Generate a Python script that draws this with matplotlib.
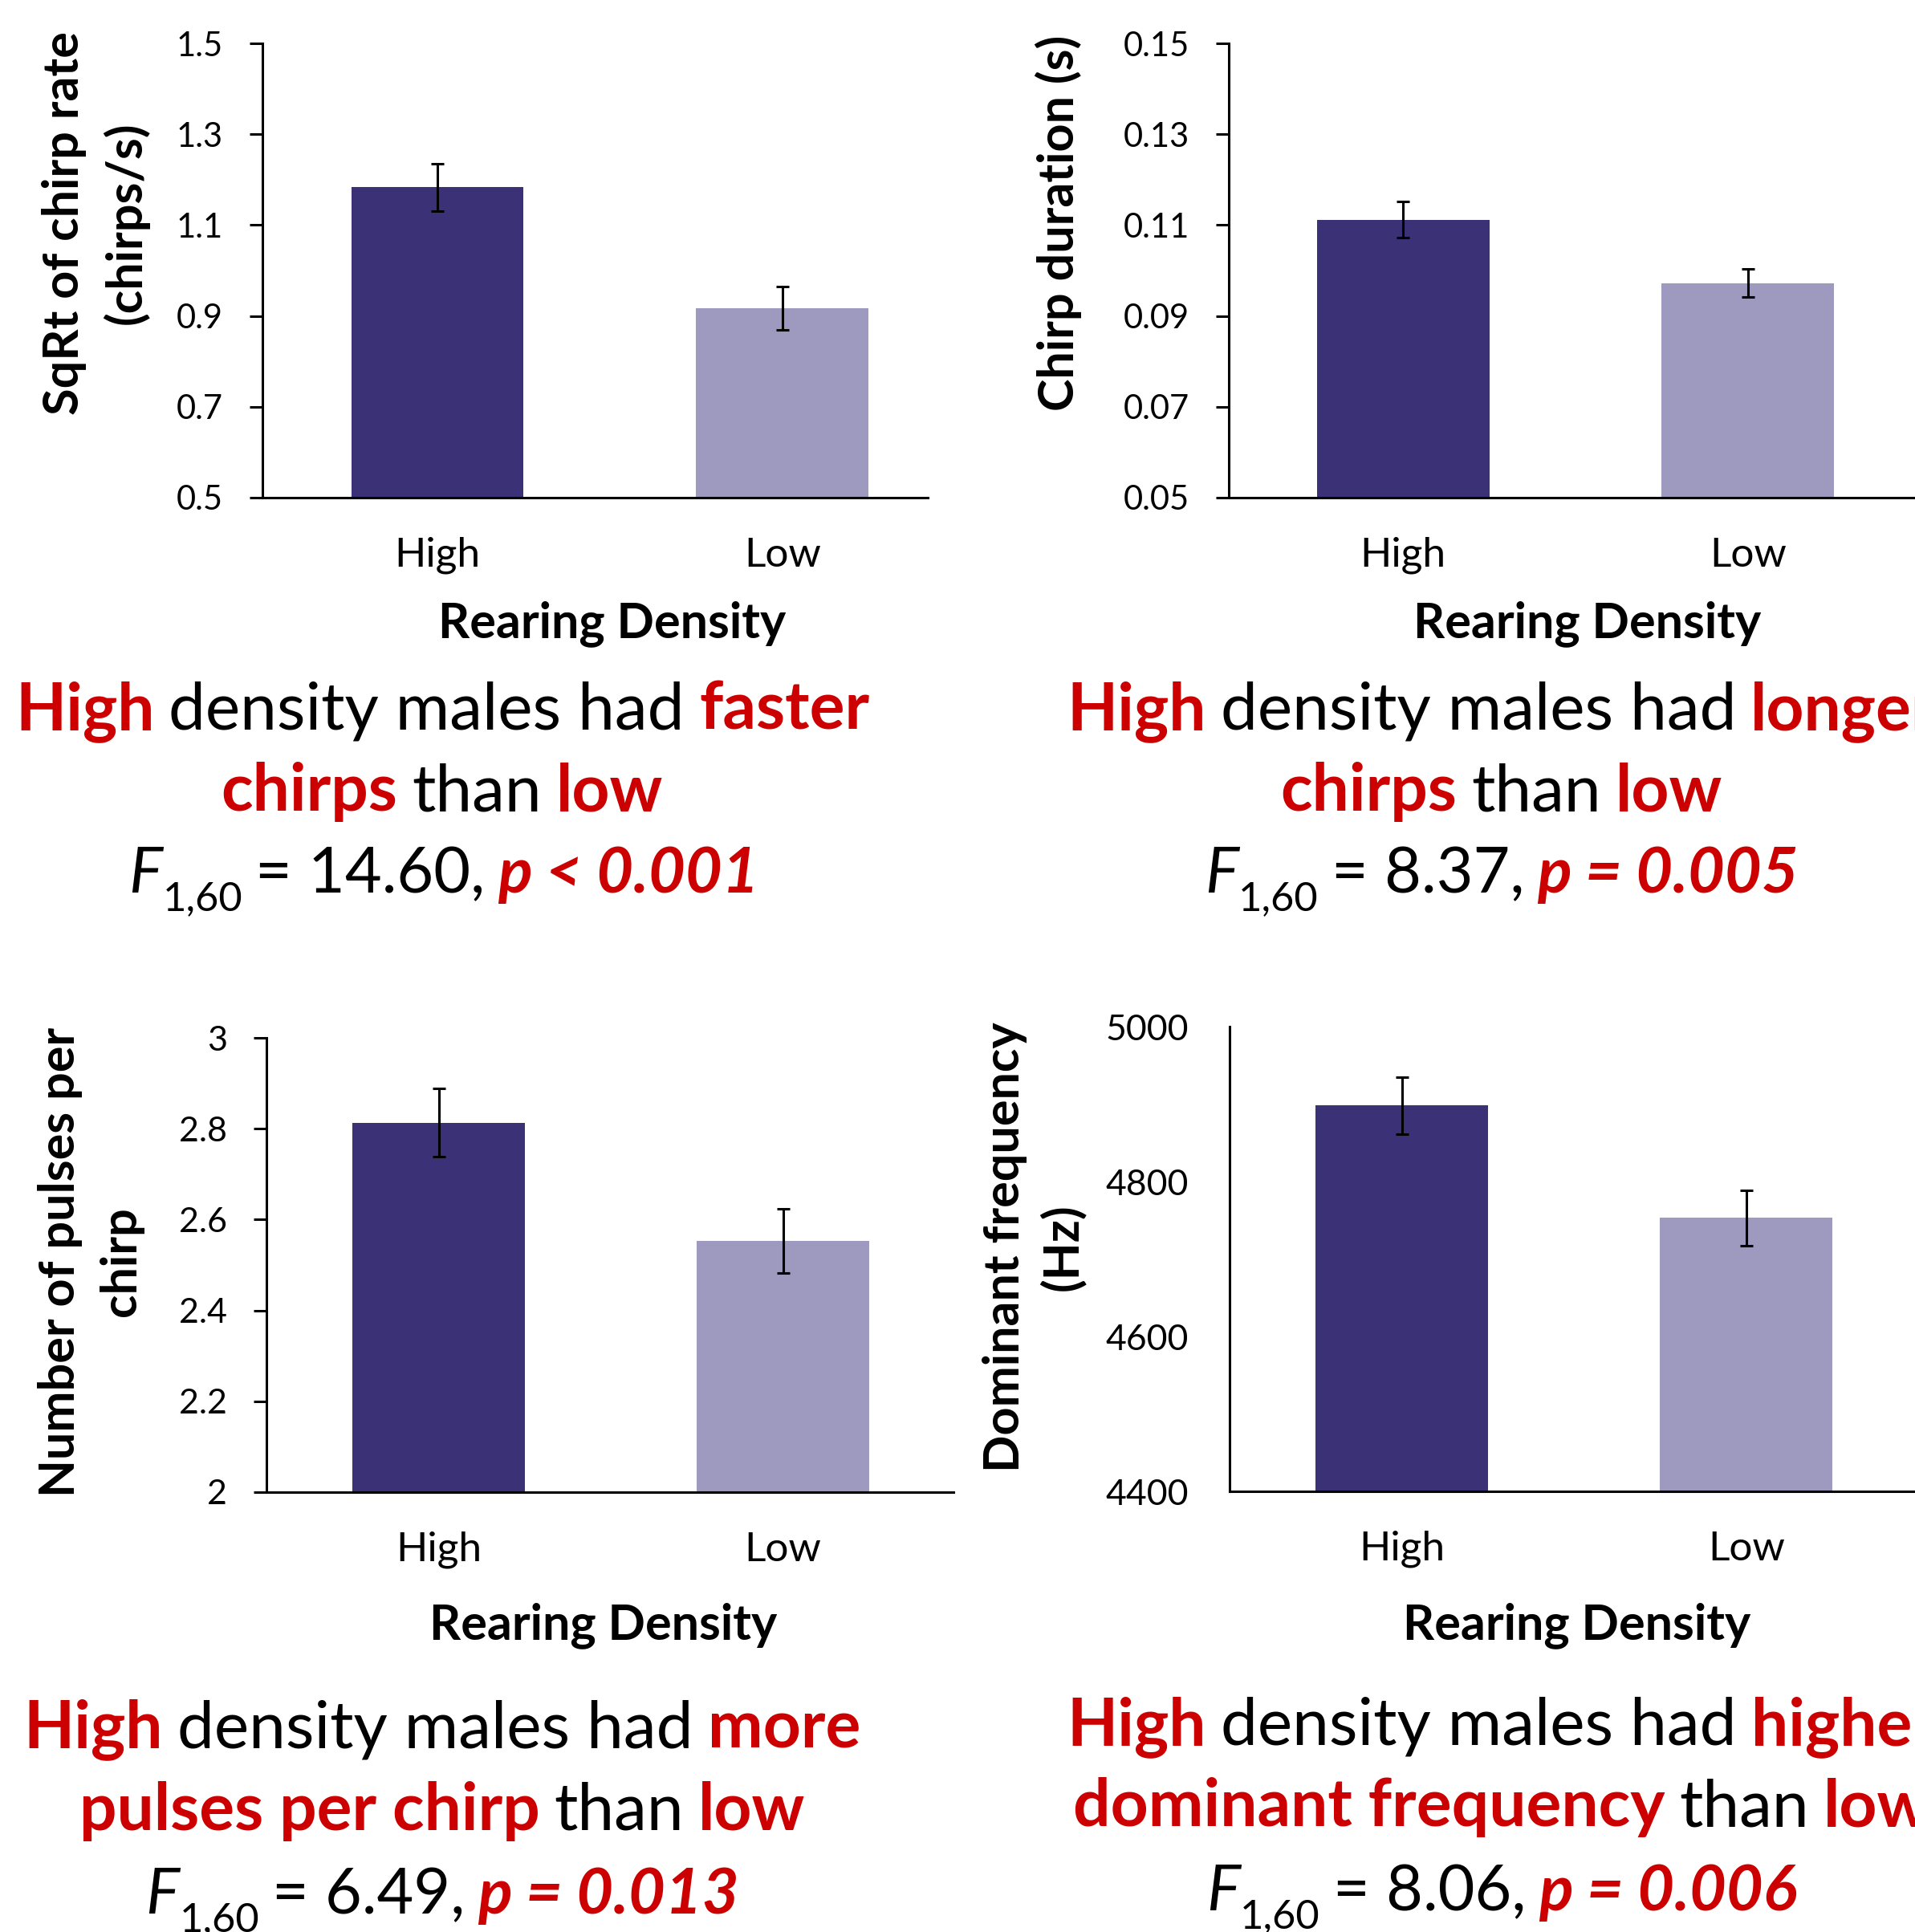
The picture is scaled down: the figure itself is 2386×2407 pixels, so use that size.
import matplotlib
matplotlib.use("Agg")
import matplotlib.pyplot as plt

plt.rcParams['font.family'] = ['Lato', 'DejaVu Sans']

W, H = 2386, 2407
DPI = 100

groups = ["High", "Low"]

chirp_rate = [1.183, 0.917]
chirp_rate_err = [0.052, 0.048]
chirp_rate_ticks = [0.5, 0.7, 0.9, 1.1, 1.3, 1.5]
chirp_rate_labels = ["0.5", "0.7", "0.9", "1.1", "1.3", "1.5"]

chirp_dur = [0.1112, 0.0972]
chirp_dur_err = [0.0040, 0.0031]
chirp_dur_ticks = [0.05, 0.07, 0.09, 0.11, 0.13, 0.15]
chirp_dur_labels = ["0.05", "0.07", "0.09", "0.11", "0.13", "0.15"]

pulses = [2.813, 2.553]
pulses_err = [0.075, 0.070]
pulses_ticks = [2.0, 2.2, 2.4, 2.6, 2.8, 3.0]
pulses_labels = ["2", "2.2", "2.4", "2.6", "2.8", "3"]

dom_freq = [4898, 4753]
dom_freq_err = [37, 36]
dom_freq_ticks = [4400, 4600, 4800, 5000]
dom_freq_labels = ["4400", "4600", "4800", "5000"]

dark = "#3b3176"
light = "#9e9abf"
red = "#cc0000"

fig = plt.figure(figsize=(W / DPI, H / DPI), dpi=DPI)
fig.patch.set_facecolor("white")


def px_rect(l, r, t, b):
    return [l / W, 1 - b / H, (r - l) / W, (b - t) / H]


def panel(rect, xlim, vals, errs, ticks, labels, tick_len, tick_pad, tick_size):
    ax = fig.add_axes(px_rect(*rect))
    ax.bar(range(len(groups)), vals, width=0.5, color=[dark, light],
           yerr=errs, error_kw=dict(ecolor="black", elinewidth=2.2,
                                    capsize=5.5, capthick=2.2))
    ax.set_xlim(*xlim)
    ax.set_ylim(ticks[0], ticks[-1])
    ax.set_yticks(ticks)
    ax.set_yticklabels(labels, fontsize=tick_size)
    ax.set_xticks(range(len(groups)))
    ax.set_xticklabels(groups, fontsize=37)
    ax.tick_params(axis="x", length=0, pad=35)
    ax.tick_params(axis="y", length=tick_len, width=2.2, pad=tick_pad,
                   direction="out")
    for s in ["top", "right"]:
        ax.spines[s].set_visible(False)
    for s in ["left", "bottom"]:
        ax.spines[s].set_linewidth(2.2)
    return ax


panel((327, 1156, 54, 620), (-0.507, 1.421), chirp_rate, chirp_rate_err,
      chirp_rate_ticks, chirp_rate_labels, 11.5, 24, 30)
panel((1531, 2386, 54, 620), (-0.505, 1.484), chirp_dur, chirp_dur_err,
      chirp_dur_ticks, chirp_dur_labels, 11.5, 24, 30)
panel((332, 1188, 1293, 1859), (-0.50, 1.495), pulses, pulses_err,
      pulses_ticks, pulses_labels, 11.5, 24, 31)
panel((1532, 2386, 1279, 1858), (-0.50, 1.49), dom_freq, dom_freq_err,
      dom_freq_ticks, dom_freq_labels, 0, 37, 32)


def ftext(x, y, s, **kw):
    return fig.text(x / W, 1 - y / H, s, **kw)


# y labels
ftext(119, 278, "SqRt of chirp rate\n(chirps/s)", rotation=90, ha="center",
      va="center", fontsize=44, fontweight="bold", linespacing=1.4)
ftext(1319, 278, "Chirp duration (s)", rotation=90, ha="center",
      va="center", fontsize=44, fontweight="bold")
ftext(113, 1572, "Number of pulses per\nchirp", rotation=90, ha="center",
      va="center", fontsize=44, fontweight="bold", linespacing=1.45)
ftext(1288, 1554, "Dominant frequency\n(Hz)", rotation=90, ha="center",
      va="center", fontsize=44, fontweight="bold", linespacing=1.3)

# x labels
for x, y in [(763, 794), (1978, 794), (752, 2042), (1965, 2042)]:
    ftext(x, y, "Rearing Density", ha="center", va="baseline",
          fontsize=44, fontweight="bold")

renderer = fig.canvas.get_renderer()
CAP = 59


def rich_line(cx, by, parts, size=CAP, gap_em=0.22):
    # parts: (text, color, weight, style, scale, drop, gap_before)
    items = []
    for text, color, weight, style, scale, drop, gap in parts:
        t = ftext(0, by + drop * size * DPI / 72, text, color=color,
                  fontweight=weight, fontstyle=style, fontsize=size * scale,
                  ha="left", va="baseline")
        items.append((t, gap))
    space = gap_em * size * DPI / 72
    widths = [t.get_window_extent(renderer).width for t, _ in items]
    total = sum(widths) + sum(space for _, g in items[1:] if g)
    x = cx - total / 2
    for i, ((t, gap), w) in enumerate(zip(items, widths)):
        if gap and i > 0:
            x += space
        t.set_x(x / W)
        x += w


def B(s):
    return (s, red, "bold", "normal", 1, 0, True)


def N(s):
    return (s, "black", "normal", "normal", 1, 0, True)


def stat_line(cx, by, fval, pval):
    parts = [("F", "black", "normal", "italic", 1, 0, False),
             ("1,60", "black", "normal", "normal", 0.64, 0.28, False),
             N("= " + fval + ","),
             (pval, red, "bold", "italic", 1, 0, True)]
    rich_line(cx, by, parts, size=57, gap_em=0.2)


rich_line(551, 909, [B("High"), N("density males had"), B("faster")])
rich_line(551, 1010, [B("chirps"), N("than"), B("low")])
stat_line(553, 1112, "14.60", "p < 0.001")

rich_line(1871, 909, [B("High"), N("density males had"), B("longer")])
rich_line(1871, 1010, [B("chirps"), N("than"), B("low")])
stat_line(1871, 1112, "8.37", "p = 0.005")

rich_line(551, 2177, [B("High"), N("density males had"), B("more")])
rich_line(551, 2280, [B("pulses per chirp"), N("than"), B("low")])
stat_line(551, 2384, "6.49", "p = 0.013")

rich_line(1871, 2174, [B("High"), N("density males had"), B("higher")])
rich_line(1871, 2275, [B("dominant frequency"), N("than"), B("low")])
stat_line(1871, 2380, "8.06", "p = 0.006")

fig.savefig("out.png", dpi=DPI)
